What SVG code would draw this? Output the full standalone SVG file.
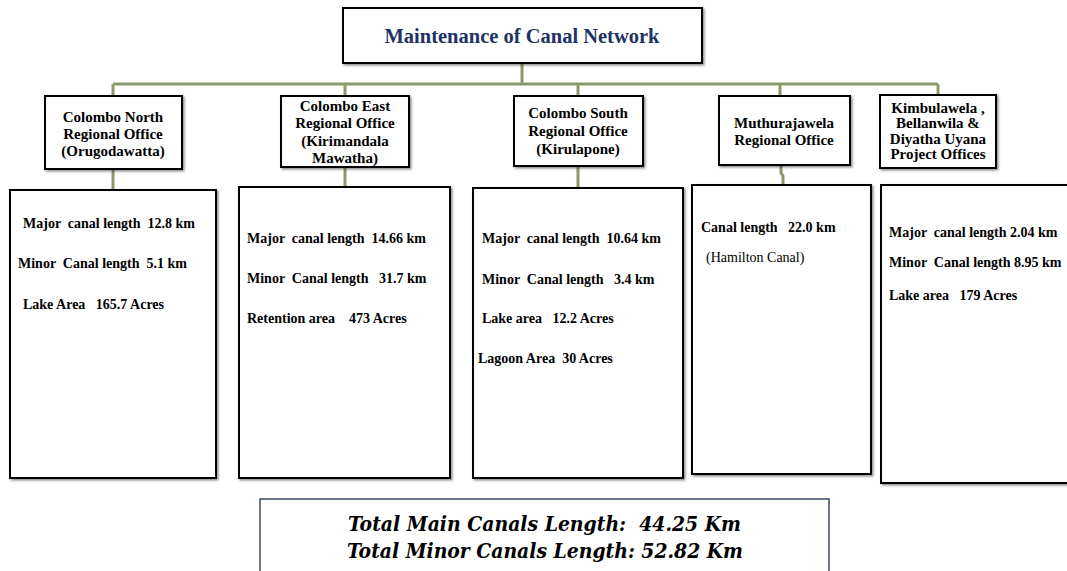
<svg xmlns="http://www.w3.org/2000/svg" width="1067" height="571" viewBox="0 0 1067 571">
<style>
.box{fill:#fff;stroke:#000;stroke-width:2;filter:url(#sh)}
.conn{stroke:#8A9A6B;stroke-width:3;fill:none}
.t{font-family:"Liberation Serif","Times New Roman",serif;font-weight:bold;font-size:15px;fill:#000;text-anchor:middle}
.d{font-family:"Liberation Serif","Times New Roman",serif;font-weight:bold;font-size:14px;fill:#000;white-space:pre}
.n{font-family:"Liberation Serif","Times New Roman",serif;font-size:14px;fill:#000;white-space:pre}
.title{font-family:"Liberation Serif","Times New Roman",serif;font-weight:bold;font-size:20.5px;fill:#1F3264;text-anchor:middle}
.tot{font-family:"DejaVu Serif Condensed","Liberation Serif",serif;font-weight:bold;font-style:italic;font-size:21px;fill:#000;white-space:pre}
</style>
<defs>
<filter id="sh" x="-5%" y="-5%" width="115%" height="115%">
<feDropShadow dx="1.5" dy="1.5" stdDeviation="0.8" flood-color="#000" flood-opacity="0.45"/>
</filter>
</defs>
<rect width="1067" height="571" fill="#fff"/>
<g id="connectors">
<path class="conn" d="M522 63V84M113 84H938M113 84V96M345 84V96M578 84V96M780 84V96M938 84V95"/>
<path class="conn" d="M113 169V190M345 167V187M578 166V188M781 165V173L783 176V185"/>
</g>
<g id="root">
<rect class="box" x="343" y="8" width="359" height="55"/>
<text class="title" x="522" y="43">Maintenance of Canal Network</text>
</g>
<g id="north">
<rect class="box" x="45" y="96" width="137" height="73"/>
<text class="t" x="113" y="122">Colombo North</text>
<text class="t" x="113" y="139">Regional  Office</text>
<text class="t" x="113" y="156">(Orugodawatta)</text>
</g>
<g id="east">
<rect class="box" x="281" y="96" width="128" height="71"/>
<text class="t" x="345" y="111">Colombo East</text>
<text class="t" x="345" y="128">Regional Office</text>
<text class="t" x="345" y="146">(Kirimandala</text>
<text class="t" x="345" y="163">Mawatha)</text>
</g>
<g id="south">
<rect class="box" x="514" y="96" width="129" height="70"/>
<text class="t" x="578" y="118">Colombo South</text>
<text class="t" x="578" y="136">Regional Office</text>
<text class="t" x="578" y="154">(Kirulapone)</text>
</g>
<g id="muthu">
<rect class="box" x="719" y="96" width="131" height="69"/>
<text class="t" x="784" y="128">Muthurajawela</text>
<text class="t" x="784" y="145">Regional Office</text>
</g>
<g id="kimbu">
<rect class="box" x="880" y="95" width="116" height="73"/>
<text class="t" x="938" y="113">Kimbulawela ,</text>
<text class="t" x="938" y="128">Bellanwila  &amp;</text>
<text class="t" x="938" y="144">Diyatha Uyana</text>
<text class="t" x="938" y="159">Project Offices</text>
</g>
<g id="north-data">
<rect class="box" x="10" y="190" width="206" height="288"/>
<text class="d" x="23" y="228">Major  canal length  12.8 km</text>
<text class="d" x="18" y="268">Minor  Canal length  5.1 km</text>
<text class="d" x="23" y="309">Lake Area   165.7 Acres</text>
</g>
<g id="east-data">
<rect class="box" x="239" y="187" width="211" height="291"/>
<text class="d" x="247" y="243">Major  canal length  14.66 km</text>
<text class="d" x="247" y="283">Minor  Canal length   31.7 km</text>
<text class="d" x="247" y="323">Retention area    473 Acres</text>
</g>
<g id="south-data">
<rect class="box" x="473" y="188" width="210" height="290"/>
<text class="d" x="482" y="243">Major  canal length  10.64 km</text>
<text class="d" x="482" y="284">Minor  Canal length   3.4 km</text>
<text class="d" x="482" y="323">Lake area   12.2 Acres</text>
<text class="d" x="478" y="363">Lagoon Area  30 Acres</text>
</g>
<g id="muthu-data">
<rect class="box" x="692" y="185" width="179" height="289"/>
<text class="d" x="701" y="232">Canal length   22.0 km</text>
<text class="n" x="706" y="262">(Hamilton Canal)</text>
</g>
<g id="kimbu-data">
<rect class="box" x="881" y="185" width="195" height="298"/>
<text class="d" x="889" y="237">Major  canal length 2.04 km</text>
<text class="d" x="889" y="267">Minor  Canal length 8.95 km</text>
<text class="d" x="889" y="300">Lake area   179 Acres</text>
</g>
<g id="totals">
<rect x="260" y="499" width="569" height="90" fill="#fff" stroke="#3B4A66" stroke-width="1.5"/>
<text class="tot" x="348" y="531" textLength="393" lengthAdjust="spacingAndGlyphs">Total Main Canals Length:  44.25 Km</text>
<text class="tot" x="347" y="558" textLength="396" lengthAdjust="spacingAndGlyphs">Total Minor Canals Length: 52.82 Km</text>
</g>
</svg>
